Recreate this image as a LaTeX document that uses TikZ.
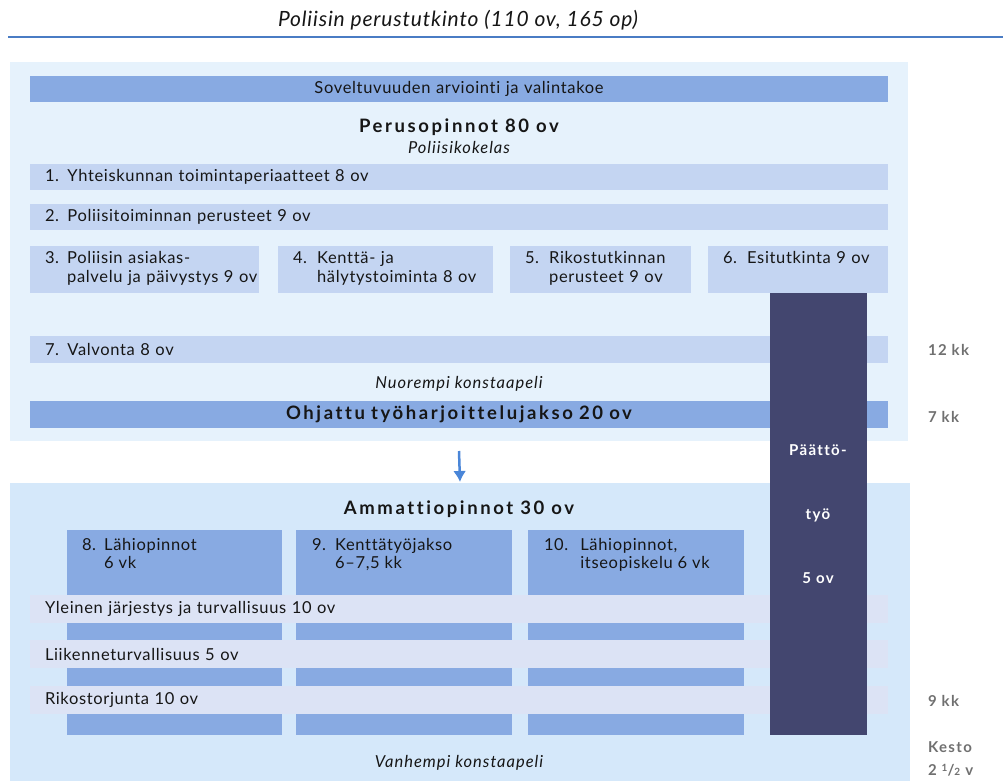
\documentclass[tikz,border=0pt]{standalone}
\usepackage{fontspec}
\setmainfont{Lato}[LetterSpace=4,Ligatures=NoCommon]
\newfontfamily\otsikkofont{Lato}[LetterSpace=14,Ligatures=NoCommon]
\newfontfamily\kestofont{Lato}[LetterSpace=9,Ligatures=NoCommon]
\newfontfamily\nimikefont{Lato}[LetterSpace=6,Ligatures=NoCommon]
\usetikzlibrary{positioning,arrows.meta}
\definecolor{paneeliA}{HTML}{E6F2FC}
\definecolor{paneeliB}{HTML}{D5E8FA}
\definecolor{tumma}{HTML}{88AAE2}
\definecolor{vaalea}{HTML}{C4D5F2}
\definecolor{laventeli}{HTML}{DCE3F5}
\definecolor{yo}{HTML}{43466F}
\definecolor{harmaa}{HTML}{707070}
\definecolor{viiva}{HTML}{4A7CC4}
\definecolor{nuolenvari}{HTML}{4A86D8}
\definecolor{teksti}{HTML}{161616}

\begin{document}
\begin{tikzpicture}[x=1pt,y=-1pt,
    every node/.style={inner sep=0pt,outer sep=0pt,text=teksti,
        font=\fontsize{16.5}{19}\selectfont},
    paneeli/.style={rectangle,anchor=north west},
    palkki/.style={rectangle,anchor=north west,minimum height=26pt,
        text width=828pt,inner xsep=15pt,align=left,fill=vaalea},
    kurssi/.style={rectangle,anchor=north west,minimum height=47pt,
        inner xsep=15pt,align=left,fill=vaalea},
    sarake/.style={rectangle,anchor=north west,minimum height=205pt,fill=tumma},
    otsikko/.style={font=\otsikkofont\fontsize{18.5}{21}\selectfont\bfseries},
    nimike/.style={font=\nimikefont\fontsize{16.5}{19}\selectfont\itshape},
    valko/.style={text=white,font=\kestofont\fontsize{15}{17}\selectfont\bfseries},
    kesto/.style={anchor=west,text=harmaa,font=\kestofont\fontsize{15}{17}\selectfont\bfseries}]
    \useasboundingbox (0,0) rectangle (1003,781);
    % Title and rule
    \node (title) at (458,20) {\fontsize{21}{24}\selectfont\itshape Poliisin perustutkinto (110 ov, 165 op)};
    \coordinate (r_1) at (8,37);
    \coordinate (r_2) at (1003,37);
    \draw[viiva,line width=2.5pt] (r_1) -- (r_2);
    % Panels
    \node[paneeli,fill=paneeliA,minimum width=898pt,minimum height=379pt] (perus) at (10,62) {};
    \node[paneeli,fill=paneeliB,minimum width=900pt,minimum height=298pt] (ammatti) at (10,483) {};
    % Basic studies
    \node[palkki,fill=tumma,align=center] (valinta) at (30,76) {Soveltuvuuden arviointi ja valintakoe};
    \node[otsikko] (perusotsikko) at (459,127) {Perusopinnot 80 ov};
    \node[nimike] (kokelas) at (459,147) {Poliisikokelas};
    \node[palkki] (k1) at (30,164) {1. Yhteiskunnan toimintaperiaatteet 8 ov};
    \node[palkki] (k2) at (30,204) {2. Poliisitoiminnan perusteet 9 ov};
    \node[kurssi,text width=199pt] (k3) at (30,246)
        {\begin{tabular}{@{}l@{\hspace{8pt}}l@{}}3. & Poliisin asiakas-\\ & palvelu ja päivystys 9 ov\end{tabular}};
    \node[kurssi,text width=185pt] (k4) at (278,246)
        {\begin{tabular}{@{}l@{\hspace{10pt}}l@{}}4. & Kenttä- ja\\ & hälytystoiminta 8 ov\end{tabular}};
    \node[kurssi,text width=151pt] (k5) at (510,246)
        {\begin{tabular}{@{}l@{\hspace{10pt}}l@{}}5. & Rikostutkinnan\\ & perusteet 9 ov\end{tabular}};
    \node[kurssi,text width=150pt] (k6) at (708,246)
        {\begin{tabular}{@{}l@{\hspace{10pt}}l@{}}6. & Esitutkinta 9 ov\\ & \end{tabular}};
    \node[palkki,minimum height=27pt] (k7) at (30,336) {7. Valvonta 8 ov};
    \node[nimike] (nuorempi) at (459,384) {Nuorempi konstaapeli};
    \node[palkki,fill=tumma,minimum height=27pt,align=center,otsikko] (ohjattu) at (30,401)
        {Ohjattu työharjoittelujakso 20 ov};
    % Arrow between panels
    \draw[nuolenvari,line width=2.5pt,-{Latex[length=11pt,width=13pt]}]
        ([yshift=-10pt]perus.south) -- ([yshift=1pt]ammatti.north);
    % Professional studies
    \node[otsikko] (ammattiotsikko) at (459,509) {Ammattiopinnot 30 ov};
    \node[sarake,minimum width=215pt] (s8) at (67,530) {};
    \node[sarake,minimum width=216pt] (s9) at (296,530) {};
    \node[sarake,minimum width=216pt] (s10) at (528,530) {};
    \node[anchor=north west,font=\fontsize{16.5}{18}\selectfont] (t8) at ([shift={(15pt,-8pt)}]s8.north west)
        {\begin{tabular}{@{}l@{\hspace{8pt}}l@{}}8. & Lähiopinnot\\ & 6 vk\end{tabular}};
    \node[anchor=north west,font=\fontsize{16.5}{18}\selectfont] (t9) at ([shift={(16pt,-8pt)}]s9.north west)
        {\begin{tabular}{@{}l@{\hspace{9pt}}l@{}}9. & Kenttätyöjakso\\ & 6–7,5 kk\end{tabular}};
    \node[anchor=north west,font=\fontsize{16.5}{18}\selectfont] (t10) at ([shift={(16pt,-8pt)}]s10.north west)
        {\begin{tabular}{@{}l@{\hspace{12pt}}l@{}}10. & Lähiopinnot,\\ & itseopiskelu 6 vk\end{tabular}};
    \node[palkki,fill=laventeli,minimum height=28pt] (yleinen) at (30,595) {Yleinen järjestys ja turvallisuus 10 ov};
    \node[palkki,fill=laventeli,minimum height=28pt] (liikenne) at (30,640) {Liikenneturvallisuus 5 ov};
    \node[palkki,fill=laventeli,minimum height=28pt] (rikos) at (30,686) {Rikostorjunta 10 ov};
    \node[nimike] (vanhempi) at (459,763) {Vanhempi konstaapeli};
    % Thesis column
    \node[paneeli,fill=yo,minimum width=97pt,minimum height=442pt] (paatto) at (770,293) {};
    \node[valko] (p1) at (818,450) {Päättö-};
    \node[valko] (p2) at (818,515) {työ};
    \node[valko] (p3) at (818,578) {5 ov};
    % Durations
    \node[kesto] (kk12) at (928,350) {12 kk};
    \node[kesto] (kk7) at (928,417) {7 kk};
    \node[kesto] (kk9) at (928,701) {9 kk};
    \node[kesto] (kesto) at (928,747) {Kesto};
    \node[kesto] (vuotta) at (928,770) {2 \raisebox{.5ex}{\fontsize{10}{10}\selectfont 1}/{\fontsize{10}{10}\selectfont 2} v};
\end{tikzpicture}
\end{document}
